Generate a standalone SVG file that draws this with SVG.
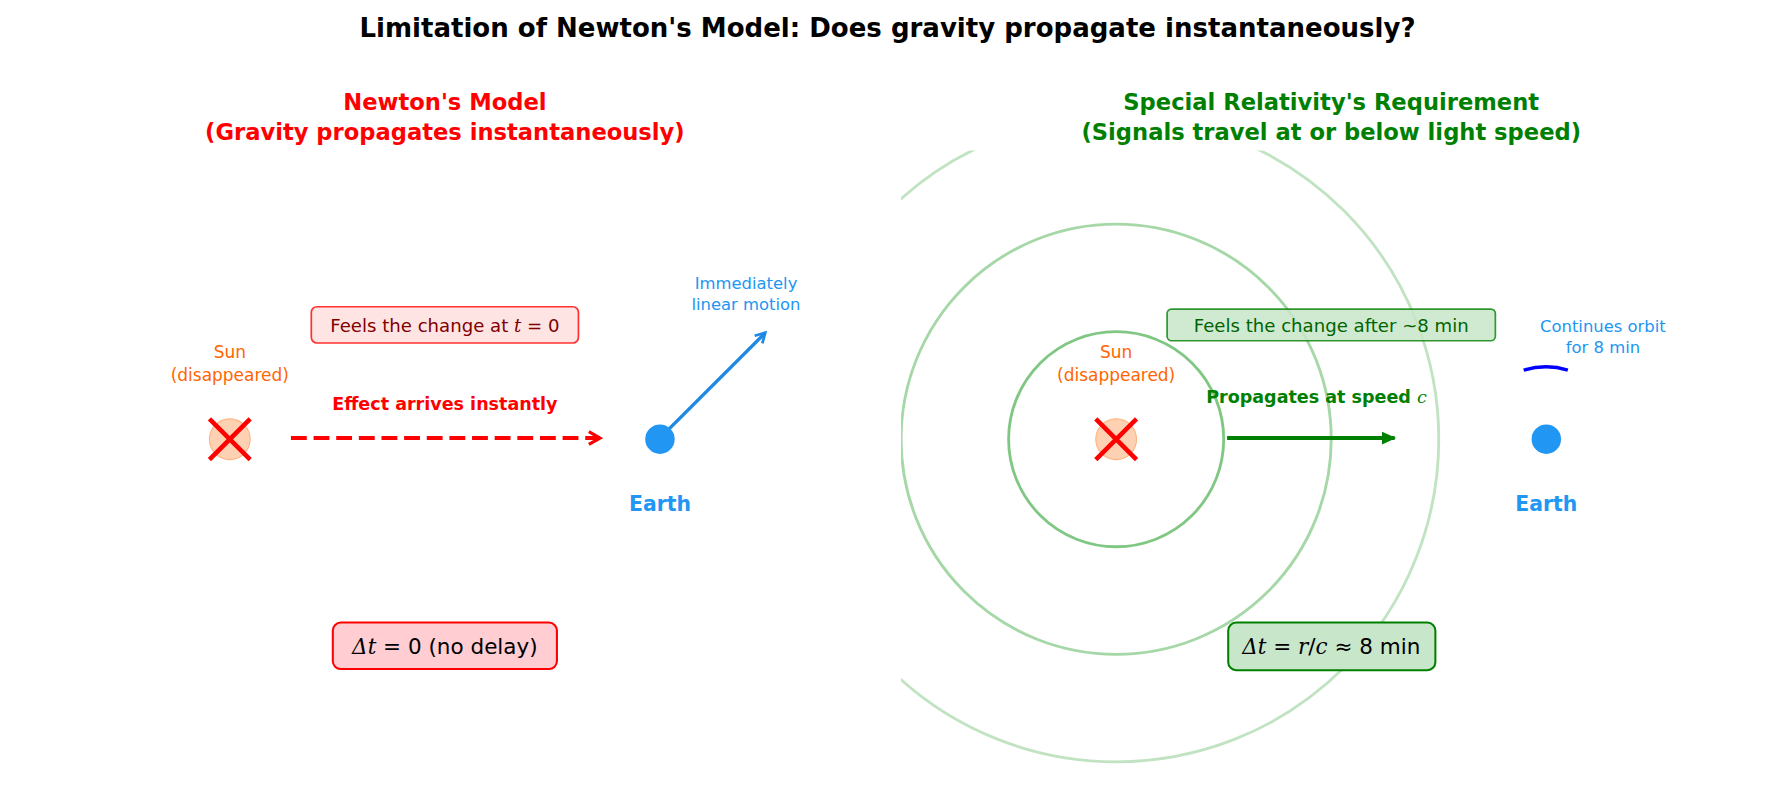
<svg xmlns="http://www.w3.org/2000/svg" width="1775" height="812" viewBox="0 0 1775 812">
<style>
text{font-family:"DejaVu Sans","Liberation Sans",sans-serif;text-anchor:middle}
.h{font-size:20px;font-weight:bold}
.sun{font-size:15px;fill:#FF6600}
.earth{font-size:18px;font-weight:bold;fill:#2196F3}
.note{font-size:14.5px;fill:#2196F3}
.m{font-family:"DejaVu Serif","Liberation Serif",serif;font-style:italic}
</style>
<defs>
<marker id="ar" viewBox="0 0 10 10" refX="8" refY="5" markerWidth="4" markerHeight="4" orient="auto"><path d="M1,1 L8,5 L1,9" fill="none" stroke="red" stroke-width="2"/></marker>
<marker id="ag" viewBox="0 0 10 10" refX="8" refY="5" markerWidth="4" markerHeight="4" orient="auto"><path d="M0,1 L9,5 L0,9 Z" fill="green"/></marker>
<marker id="ab" viewBox="0 0 10 10" refX="8" refY="5" markerWidth="4" markerHeight="4" orient="auto"><path d="M1,1 L8,5 L1,9" fill="none" stroke="#1E88E5" stroke-width="2"/></marker>
<clipPath id="cp"><rect x="796" y="133" width="770" height="570"/></clipPath>
</defs>
<rect width="1775" height="812" fill="#fff"/>
<g transform="scale(1.132)">
<text x="784" y="33" style="font-size:23px;font-weight:bold">Limitation of Newton's Model: Does gravity propagate instantaneously?</text>
<g id="left-title" fill="red"><text class="h" x="393" y="97" fill="red">Newton's Model</text><text class="h" x="393" y="124" fill="red">(Gravity propagates instantaneously)</text></g>
<g id="right-title"><text class="h" x="1176" y="97" fill="green">Special Relativity's Requirement</text><text class="h" x="1176" y="124" fill="green">(Signals travel at or below light speed)</text></g>

<g id="waves" clip-path="url(#cp)" fill="none" stroke="#4CAF50" stroke-width="2.5">
<circle cx="986" cy="388" r="95" opacity="0.7"/>
<circle cx="986" cy="388" r="190" opacity="0.5"/>
<circle cx="986" cy="388" r="285" opacity="0.35"/>
</g>

<g id="connectors">
<line x1="257" y1="387" x2="530" y2="387" stroke="red" stroke-width="3.5" stroke-dasharray="14,6" marker-end="url(#ar)"/>
<line x1="590" y1="380" x2="676" y2="294" stroke="#1E88E5" stroke-width="3" marker-end="url(#ab)"/>
<line x1="1084" y1="387" x2="1232" y2="387" stroke="green" stroke-width="3.5" marker-end="url(#ag)"/>
<path d="M1346,327 Q1366,321 1385,327" fill="none" stroke="blue" stroke-width="3"/>
</g>

<g id="sun-left">
<circle cx="203" cy="388" r="18" fill="#FFB380" fill-opacity="0.6" stroke="#FFB380" stroke-width="1"/>
<path d="M185,370 L221,406 M221,370 L185,406" stroke="red" stroke-width="4"/>
<text class="sun" x="203" y="316">Sun</text><text class="sun" x="203" y="337">(disappeared)</text>
</g>
<g id="earth-left">
<circle cx="583" cy="388" r="13" fill="#2196F3"/>
<text class="earth" x="583" y="451">Earth</text>
<text class="note" x="659" y="255">Immediately</text><text class="note" x="659" y="274">linear motion</text>
</g>
<g id="label-instant"><text x="393" y="362" style="font-size:15.5px;font-weight:bold" fill="red">Effect arrives instantly</text></g>
<g id="box-feel-left">
<rect x="275" y="271" width="236" height="32" rx="5" fill="#FFE4E4" stroke="red" stroke-opacity="0.8" stroke-width="1.5"/>
<text x="393" y="293" style="font-size:16px" fill="#800000">Feels the change at <tspan class="m">t</tspan> = 0</text>
</g>
<g id="box-delay-left">
<rect x="294" y="550" width="198" height="41" rx="7" fill="#FFCDD2" stroke="red" stroke-width="1.8"/>
<text x="393" y="578" style="font-size:19px"><tspan class="m">Δt</tspan> = 0 (no delay)</text>
</g>

<g id="sun-right">
<circle cx="986" cy="388" r="18" fill="#FFB380" fill-opacity="0.6" stroke="#FFB380" stroke-width="1"/>
<path d="M968,370 L1004,406 M1004,370 L968,406" stroke="red" stroke-width="4"/>
<text class="sun" x="986" y="316">Sun</text><text class="sun" x="986" y="337">(disappeared)</text>
</g>
<g id="earth-right">
<circle cx="1366" cy="388" r="13" fill="#2196F3"/>
<text class="earth" x="1366" y="451">Earth</text>
<text class="note" x="1416" y="293">Continues orbit</text><text class="note" x="1416" y="312">for 8 min</text>
</g>
<g id="label-speed"><text x="1163" y="356" style="font-size:15.5px;font-weight:bold" fill="green">Propagates at speed <tspan class="m" font-weight="normal">c</tspan></text></g>
<g id="box-feel-right">
<rect x="1031" y="273" width="290" height="28" rx="4" fill="#C8E6C9" fill-opacity="0.85" stroke="green" stroke-opacity="0.8" stroke-width="1.5"/>
<text x="1176" y="293" style="font-size:16px" fill="#006400">Feels the change after ~8 min</text>
</g>
<g id="box-delay-right">
<rect x="1085" y="550" width="183" height="42" rx="7" fill="#C8E6C9" stroke="green" stroke-width="1.8"/>
<text x="1176" y="578" style="font-size:19px"><tspan class="m">Δt</tspan> = <tspan class="m">r</tspan>/<tspan class="m">c</tspan> ≈ 8 min</text>
</g>
</g>
</svg>
